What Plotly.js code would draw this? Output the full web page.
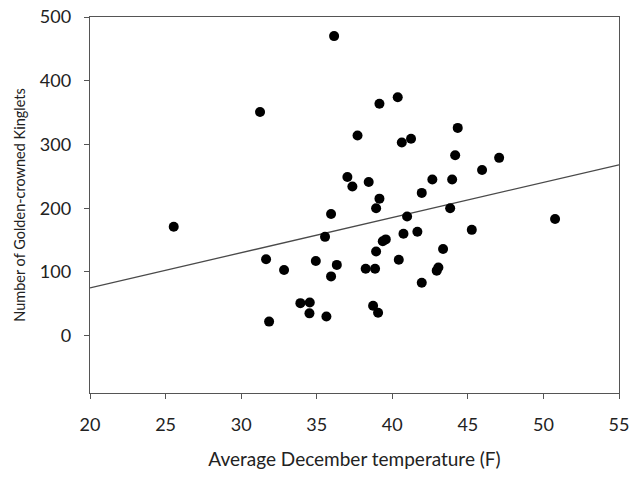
<!DOCTYPE html>
<html>
<head>
<meta charset="utf-8">
<script src="https://cdn.plot.ly/plotly-3.0.1.min.js"></script>
<style>html,body{margin:0;padding:0;background:#fff;}#chart{width:633px;height:477px;}</style>
</head>
<body>
<div id="chart"></div>
<script>
const temperature = [25.54,31.25,31.65,31.85,32.84,33.92,34.54,34.52,34.94,35.55,35.64,35.95,35.95,36.15,36.33,37.03,37.36,37.7,38.24,38.44,38.73,38.86,38.93,38.93,39.06,39.15,39.15,39.37,39.57,40.36,40.43,40.63,40.74,40.98,41.24,41.66,41.95,41.95,42.65,42.94,43.05,43.36,43.83,43.96,44.16,44.33,45.26,45.94,47.07,50.77];
const kinglets = [171,351,120,22,103,51,52,35,117,155,30,191,93,470,111,249,234,314,105,241,47,105,200,132,36,215,364,148,151,374,119,303,160,187,309,163,224,83,245,102,107,136,200,245,283,326,166,260,279,183];
const trendX = [20,55];
const trendY = [75,268];
const xTicks = [20,25,30,35,40,45,50,55];
const yTicks = [0,100,200,300,400,500];

const font = "Lato, 'Open Sans', 'Liberation Sans', sans-serif";
const data = [
  {x: trendX, y: trendY, type:'scatter', mode:'lines', line:{color:'#4a4a4a', width:1.3}, hoverinfo:'skip'},
  {x: temperature, y: kinglets, type:'scatter', mode:'markers', marker:{color:'#000', size:10}}
];
const axisCommon = {showline:true, linecolor:'#555', linewidth:1.3, mirror:true, ticks:'outside', ticklen:5, tickcolor:'#555', showgrid:false, zeroline:false, tickfont:{family:font, size:18, color:'#222'}};
const layout = {
  width:633, height:477, showlegend:false,
  paper_bgcolor:'#fff', plot_bgcolor:'#fff',
  margin:{l:90, r:14, t:17, b:84},
  xaxis: Object.assign({}, axisCommon, {range:[20,55], tickvals:xTicks, ticktext:xTicks.map(String), ticklabelstandoff:10, title:{text:'Average December temperature (F)', font:{family:font, size:19, color:'#222'}, standoff:18}}),
  yaxis: Object.assign({}, axisCommon, {range:[-90,500], tickvals:yTicks, ticktext:yTicks.map(String), ticklabelstandoff:9, title:{text:'Number of Golden-crowned Kinglets', font:{family:font, size:14.5, color:'#222'}, standoff:10}})
};
Plotly.newPlot('chart', data, layout, {displayModeBar:false, staticPlot:true});
</script>
</body>
</html>
